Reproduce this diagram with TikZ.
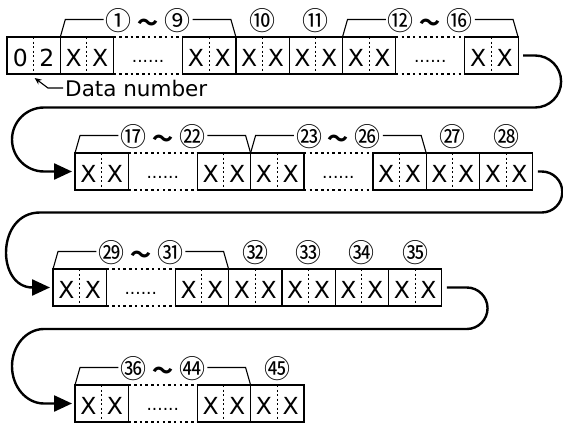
\documentclass[tikz,border=0pt]{standalone}
\usepackage{fontspec}
\setmainfont{DejaVu Sans}
\newfontfamily\cjk{Noto Sans CJK JP}
\usetikzlibrary{calc,arrows.meta}
\newcommand\xx[2]{\makebox[26.65pt]{#1}\makebox[26.65pt]{#2}}
\newcommand\til{{\fontsize{21}{21}\selectfont\bfseries ～}}
\newcommand\gapbox[3]{%
  \draw[gapline] (#1.north east) -- (#2.north west);
  \draw[gapline] (#1.south east) -- (#2.south west);
  \node[ell] (#3) at ($(#1.east)!0.5!(#2.west)+(0,6.5)$) {......};}
\newcommand\grp[5]{%
  \path ($(#1.north west)+(5,-17.5)$) coordinate (#3l)
        ($(#2.north east)+(-5,-17.5)$) coordinate (#3r);
  \node[num] (#3) at ($(#3l)!0.5!(#3r)+(0,1.5)$) {#4 \til{} #5};
  \draw[brk] (#1.north west) -- (#3l) -- (#3l -| #3.west);
  \draw[brk] (#3r -| #3.east) -- (#3r) -- (#2.north east);}
\newcommand\one[3]{\node[num] (#2) at ($(#1.north)+(0,-16)$) {#3};}
\tikzset{
  cell/.style={draw, line width=1.2pt, minimum width=53.3pt, minimum height=37pt,
    inner sep=0pt, outer sep=0pt, font=\fontsize{23.5}{23.5}\selectfont,
    text height=21.8pt, text depth=0pt},
  divider/.style={line width=1pt, dash pattern=on 2pt off 2.5pt},
  gapline/.style={line width=1.1pt, dash pattern=on 2.5pt off 3.2pt},
  ell/.style={font=\fontsize{17}{17}\selectfont, inner sep=0pt, anchor=base},
  num/.style={font=\cjk\fontsize{26}{26}\selectfont, inner sep=2pt},
  brk/.style={line width=1.1pt},
  conn/.style={line width=2.4pt, -{Triangle[length=18pt,width=16pt]}},
}
\begin{document}
\begin{tikzpicture}[x=1pt,y=-1pt]
\useasboundingbox (0,0) rectangle (563,423);
% row 1
\node[cell] (r1a) at (33.65,55.5) {\xx{0}{2}};
\node[cell] (r1b) at (86.95,55.5) {\xx{X}{X}};
\node[cell] (r1c) at (209.25,55.5) {\xx{X}{X}};
\node[cell] (r1d) at (262.55,55.5) {\xx{X}{X}};
\node[cell] (r1e) at (315.85,55.5) {\xx{X}{X}};
\node[cell] (r1f) at (369.15,55.5) {\xx{X}{X}};
\node[cell] (r1g) at (491.45,55.5) {\xx{X}{X}};
% row 2
\node[cell] (r2a) at (101.65,171.5) {\xx{X}{X}};
\node[cell] (r2b) at (223.95,171.5) {\xx{X}{X}};
\node[cell] (r2c) at (277.25,171.5) {\xx{X}{X}};
\node[cell] (r2d) at (399.55,171.5) {\xx{X}{X}};
\node[cell] (r2e) at (452.85,171.5) {\xx{X}{X}};
\node[cell] (r2f) at (506.15,171.5) {\xx{X}{X}};
% row 3
\node[cell] (r3a) at (79.65,287.5) {\xx{X}{X}};
\node[cell] (r3b) at (201.95,287.5) {\xx{X}{X}};
\node[cell] (r3c) at (255.25,287.5) {\xx{X}{X}};
\node[cell] (r3d) at (308.55,287.5) {\xx{X}{X}};
\node[cell] (r3e) at (361.85,287.5) {\xx{X}{X}};
\node[cell] (r3f) at (415.15,287.5) {\xx{X}{X}};
% row 4
\node[cell] (r4a) at (101.65,403.5) {\xx{X}{X}};
\node[cell] (r4b) at (223.95,403.5) {\xx{X}{X}};
\node[cell] (r4c) at (277.25,403.5) {\xx{X}{X}};
% dividers
\foreach \n in {r1a,r1b,r1c,r1d,r1e,r1f,r1g,r2a,r2b,r2c,r2d,r2e,r2f,r3a,r3b,r3c,r3d,r3e,r3f,r4a,r4b,r4c}
  \draw[divider] (\n.north) -- (\n.south);
% gaps
\gapbox{r1b}{r1c}{e1}
\gapbox{r1f}{r1g}{e2}
\gapbox{r2a}{r2b}{e3}
\gapbox{r2c}{r2d}{e4}
\gapbox{r3a}{r3b}{e5}
\gapbox{r4a}{r4b}{e6}
% labels
\grp{r1b}{r1c}{g1}{①}{⑨}
\one{r1d}{n10}{⑩}
\one{r1e}{n11}{⑪}
\grp{r1f}{r1g}{g2}{⑫}{⑯}
\grp{r2a}{r2b}{g3}{⑰}{㉒}
\grp{r2c}{r2d}{g4}{㉓}{㉖}
\one{r2e}{n27}{㉗}
\one{r2f}{n28}{㉘}
\grp{r3a}{r3b}{g5}{㉙}{㉛}
\one{r3c}{n32}{㉜}
\one{r3d}{n33}{㉝}
\one{r3e}{n34}{㉞}
\one{r3f}{n35}{㉟}
\grp{r4a}{r4b}{g6}{㊱}{㊹}
\one{r4c}{n45}{㊺}
% data number
\node[font=\fontsize{21.5}{22}\selectfont, anchor=west, inner sep=0pt] (dn) at (65,88) {Data number};
\draw[line width=1.1pt, -{Stealth[length=7pt,width=6pt]}] ([xshift=-2pt]dn.west) -- ++(-15,0) -- ($(r1a.south)+(1,4)$);
% connectors
\draw[conn] ([xshift=5pt]r1g.east) -- ++(12,0) arc[start angle=-90,end angle=90,radius=26]
  -- (44,107.5) arc[start angle=-90,end angle=-270,radius=32] -- ([xshift=-3pt]r2a.west);
\draw[conn] ([xshift=5pt]r2f.east) -- ++(4,0) arc[start angle=-90,end angle=90,radius=20.5]
  -- (40,212.5) .. controls (-4,212.5) and (-4,287.5) .. ([xshift=-3pt]r3a.west);
\draw[conn] ([xshift=5pt]r3f.east) -- ++(20,0) arc[start angle=-90,end angle=90,radius=20.75]
  -- (44,329) arc[start angle=-90,end angle=-270,x radius=32,y radius=37.25] -- ([xshift=-3pt]r4a.west);
\end{tikzpicture}
\end{document}
